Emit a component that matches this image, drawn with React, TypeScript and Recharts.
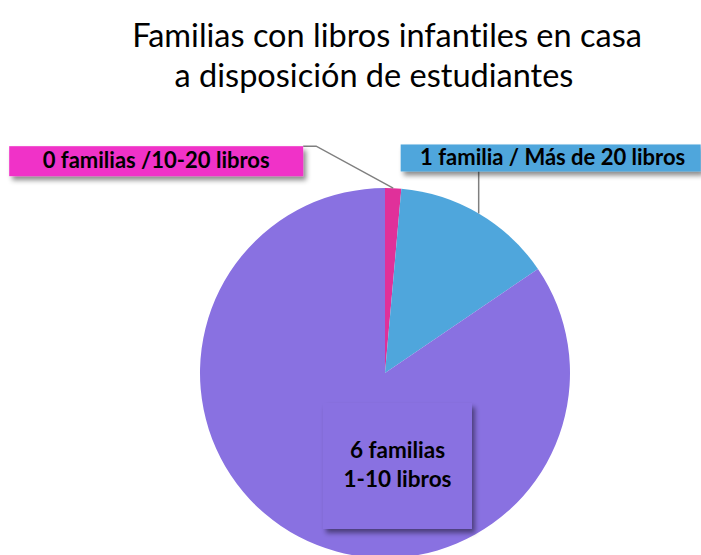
import React from 'react';
import { PieChart, Pie, Cell } from 'recharts';

const titleLines = ['Familias con libros infantiles en casa', 'a disposición de estudiantes'];
const categories = ['0 familias /10-20 libros', '1 familia / Más de 20 libros', '6 familias\n1-10 libros'];
const values = [0.1, 1, 6];
const sliceColors = ['#E0309A', '#4FA6DC', '#8971E1'];
const labelColors = ['#F032C8', '#4FA6DC', '#8971E1'];

const data = categories.map((name, i) => ({ name, value: values[i] }));

const RAD = Math.PI / 180;
const FONT = 'Lato, "Open Sans", sans-serif';
const TXT = { fontVariantLigatures: 'none' } as React.CSSProperties;

const renderLabel = (props: any) => {
  const { cx, cy, midAngle, outerRadius, index, name } = props;
  const ex = cx + outerRadius * Math.cos(-midAngle * RAD);
  const ey = cy + outerRadius * Math.sin(-midAngle * RAD);
  if (index === 0) {
    const bx = ex - 384, by = ey - 42, bw = 294, bh = 30;
    return (
      <g key="l0">
        <polyline points={`${bx + bw},${by} ${bx + bw + 13},${by} ${ex},${ey}`} fill="none" stroke="#7f7f7f" strokeWidth={1.5} />
        <rect x={bx} y={by} width={bw} height={bh} fill={labelColors[0]} filter="url(#boxShadow)" />
        <text x={bx + bw / 2} y={by + 22} textAnchor="middle" fontFamily={FONT} fontWeight={700} fontSize={22} fill="#000" style={TXT}>{name}</text>
      </g>
    );
  }
  if (index === 1) {
    const bx = ex - 78, by = ey - 69, bw = 300, bh = 27;
    return (
      <g key="l1">
        <line x1={ex} y1={by + bh} x2={ex} y2={ey} stroke="#7f7f7f" strokeWidth={1.5} />
        <rect x={bx} y={by} width={bw} height={bh} fill={labelColors[1]} filter="url(#boxShadow)" />
        <text x={bx + 152} y={by + 21} textAnchor="middle" fontFamily={FONT} fontWeight={700} fontSize={22} fill="#000" style={TXT}>{name}</text>
      </g>
    );
  }
  const lines = String(name).split('\n');
  const bx = cx - 62, by = cy + 30, bw = 149, bh = 126;
  return (
    <g key="l2">
      <rect x={bx} y={by} width={bw} height={bh} fill={labelColors[2]} filter="url(#boxShadow)" />
      {lines.map((t, i) => (
        <text key={i} x={bx + bw / 2} y={by + 55 + i * 29} textAnchor="middle" fontFamily={FONT} fontWeight={700} fontSize={22.5} fill="#000" style={TXT}>{t}</text>
      ))}
    </g>
  );
};

export default function App() {
  return (
    <div style={{ position: 'absolute', left: 0, top: 0, width: 701, height: 555, background: '#fff' }}>
      <PieChart width={701} height={555} margin={{ top: 0, right: 0, bottom: 0, left: 0 }}>
        <defs>
          <filter id="boxShadow" x="-10%" y="-20%" width="130%" height="160%">
            <feDropShadow dx={3} dy={4} stdDeviation={2.5} floodColor="#000" floodOpacity={0.45} />
          </filter>
        </defs>
        <text x={387} y={47} textAnchor="middle" fontFamily={FONT} fontSize={32.5} fill="#000" style={TXT}>{titleLines[0]}</text>
        <text x={374} y={87} textAnchor="middle" fontFamily={FONT} fontSize={32.5} fill="#000" style={TXT}>{titleLines[1]}</text>
        <Pie
          data={data}
          dataKey="value"
          nameKey="name"
          cx={385}
          cy={373}
          outerRadius={185}
          startAngle={90}
          endAngle={-270}
          stroke="none"
          label={renderLabel}
          labelLine={false}
          isAnimationActive={false}
        >
          {data.map((d, i) => (
            <Cell key={d.name} fill={sliceColors[i]} stroke="none" />
          ))}
        </Pie>
      </PieChart>
    </div>
  );
}
